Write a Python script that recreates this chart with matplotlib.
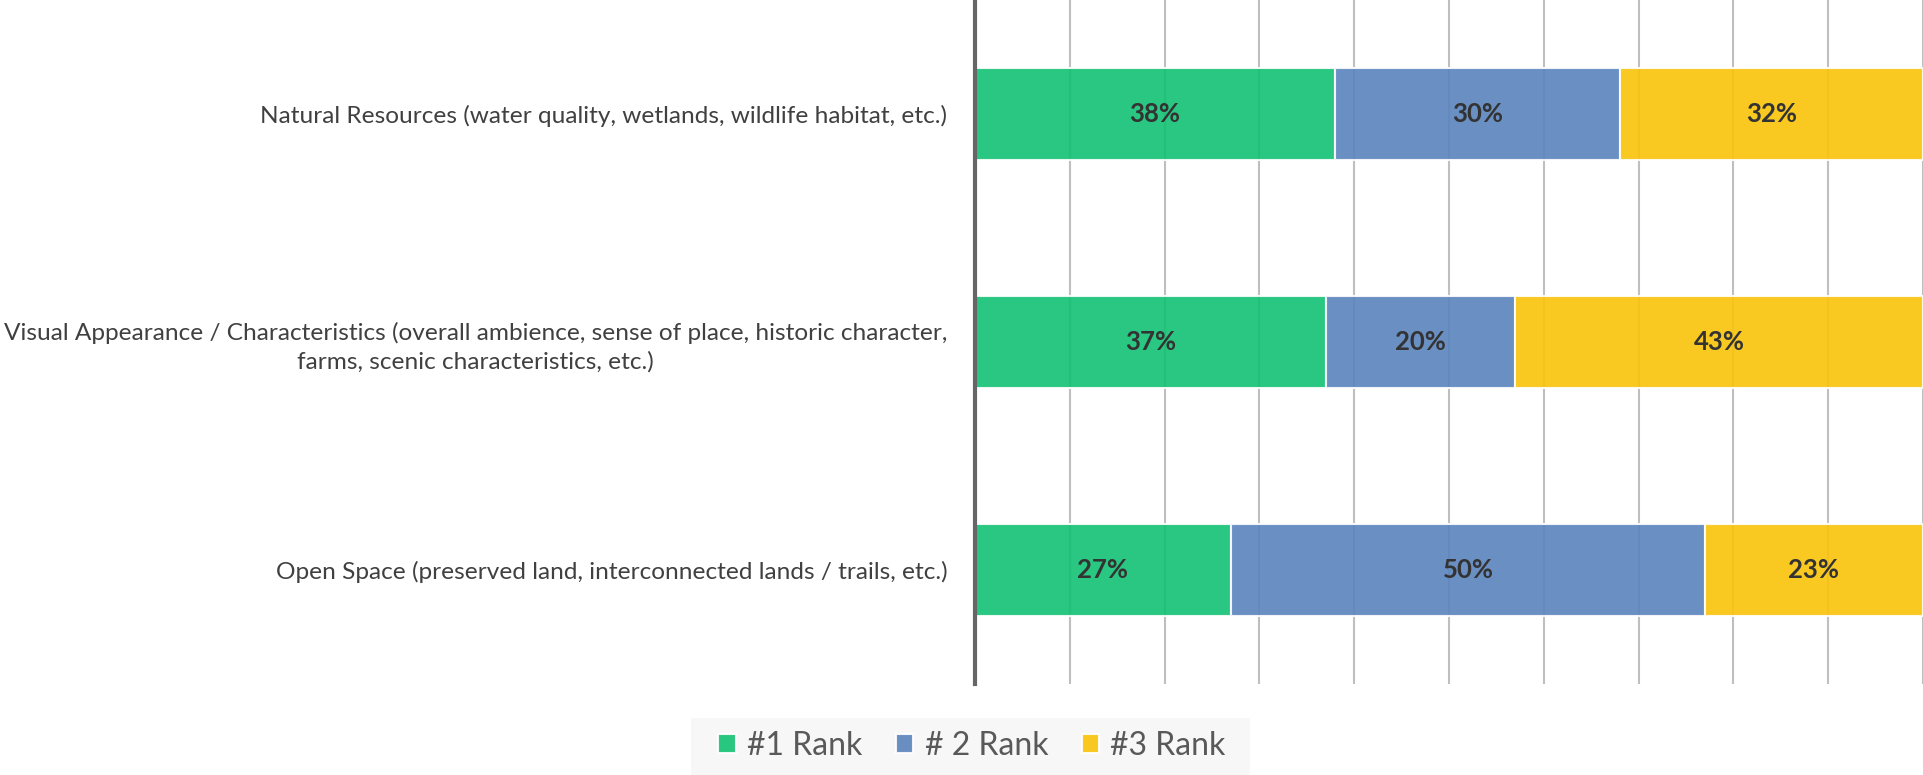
import numpy as np
import matplotlib
matplotlib.use("Agg")
import matplotlib.pyplot as plt
from matplotlib.patches import Rectangle

# data
categories = [
    "Natural Resources (water quality, wetlands, wildlife habitat, etc.)",
    "Visual Appearance / Characteristics (overall ambience, sense of place, historic character,\nfarms, scenic characteristics, etc.)",
    "Open Space (preserved land, interconnected lands / trails, etc.)",
]
rank1 = [38, 37, 27]
rank2 = [30, 20, 50]
rank3 = [32, 43, 23]
series_names = ["#1 Rank", "# 2 Rank", "#3 Rank"]
colors = ["#12c173", "#5a84bd", "#f9c30a"]

plt.rcParams['font.family'] = ['Lato', 'DejaVu Sans']

fig = plt.figure(figsize=(19.23, 7.75), dpi=100)
ax = fig.add_axes([975 / 1923, 1 - 684 / 775, 1 - 975 / 1923, 684 / 775])

y = np.arange(len(categories))
left = np.zeros(len(categories))
for vals, name, col in zip([rank1, rank2, rank3], series_names, colors):
    vals = np.array(vals, dtype=float)
    bars = ax.barh(y, vals, left=left, height=0.4, color=col, alpha=0.9,
                   edgecolor="white", linewidth=1.5, label=name, zorder=3)
    for b, v in zip(bars, vals):
        ax.text(b.get_x() + b.get_width() / 2, b.get_y() + b.get_height() / 2,
                f"{v:.0f}%", ha="center", va="center", fontsize=18.5,
                fontweight="bold", color="#333333", zorder=4)
    left += vals

ax.set_xlim(0, 100)
ax.set_ylim(len(categories) - 0.5, -0.5)
ax.set_xticks(np.arange(10, 101, 10))
ax.set_xticklabels([])
ax.grid(axis="x", color="#bfbfbf", linewidth=1.5, zorder=1)
ax.set_yticks(y)
ax.set_yticklabels(categories, fontsize=17.6, color="#404040")
for lab in ax.get_yticklabels():
    lab.set_multialignment("center")
    lab.set_linespacing(1.4)
ax.tick_params(axis="y", length=0, pad=20)
ax.tick_params(axis="x", length=0)
for s in ["top", "right", "bottom"]:
    ax.spines[s].set_visible(False)
ax.spines["left"].set_color("#666666")
ax.spines["left"].set_linewidth(3)
ax.spines["left"].set_zorder(5)

# legend background box
fig.patches.append(Rectangle((691 / 1923, 0), (1250 - 691) / 1923, 1 - 718 / 775,
                             transform=fig.transFigure, facecolor="#f7f7f7",
                             edgecolor="none", zorder=0))
leg = fig.legend(loc="center", bbox_to_anchor=(972 / 1923, 1 - 746 / 775),
                 ncol=3, frameon=False, fontsize=23, handlelength=0.55,
                 handleheight=0.55, handletextpad=0.35, columnspacing=1.05,
                 borderpad=0, borderaxespad=0, labelcolor="#595959")

fig.savefig("out.png", dpi=100)
